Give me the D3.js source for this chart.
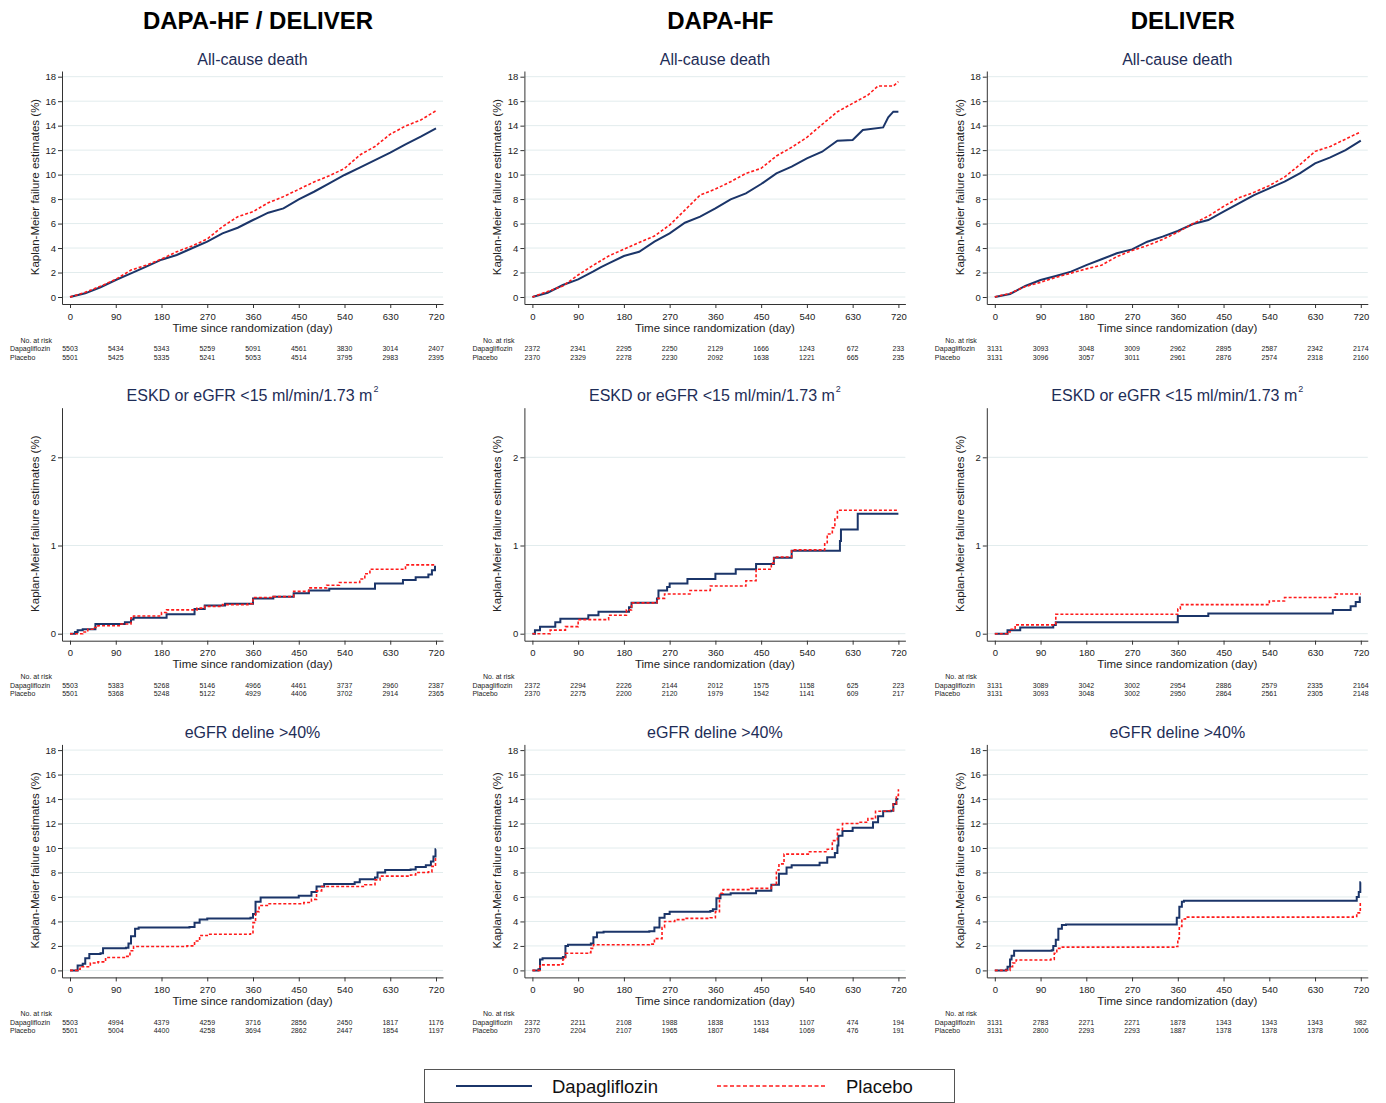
<!DOCTYPE html>
<html>
<head>
<meta charset="utf-8">
<script src="https://cdn.jsdelivr.net/npm/d3@7"></script>
<style>
	body { margin: 0; background: #fff; }
	svg { display: block; font-family: Arial, "Liberation Sans", sans-serif; }
</style>
</head>
<body>
<div id="chart"></div>
<script>
const width = 1386, height = 1103;

// ---------------- data ----------------
const studies = ["DAPA-HF / DELIVER", "DAPA-HF", "DELIVER"];
const outcomes = ["All-cause death", "ESKD or eGFR <15 ml/min/1.73 m", "eGFR deline >40%"];
const outcomeSup = ["", "2", ""];
const groups = ["Dapagliflozin", "Placebo"];
const dayTicks = [0, 90, 180, 270, 360, 450, 540, 630, 720];
const pctTicks = [0, 2, 4, 6, 8, 10, 12, 14, 16, 18];
const pctTicksEskd = [0, 1, 2];

// Kaplan-Meier curves, [day, failure %]
const pooledDeathDapa = [[0,0],[30,0.3],[60,0.8],[90,1.39],[120,1.93],[150,2.48],[180,3.05],[210,3.43],[240,3.98],[270,4.52],[300,5.2],[330,5.66],[360,6.29],[390,6.89],[420,7.24],[450,7.98],[480,8.6],[510,9.29],[540,9.97],[570,10.57],[600,11.19],[630,11.79],[660,12.47],[690,13.1],[720,13.78]];
const pooledDeathPbo = [[0,0],[30,0.38],[60,0.88],[90,1.44],[120,2.2],[150,2.6],[180,3.1],[210,3.7],[240,4.17],[270,4.74],[300,5.75],[330,6.56],[360,6.97],[390,7.7],[420,8.2],[450,8.8],[480,9.4],[510,9.9],[540,10.5],[570,11.6],[600,12.3],[630,13.3],[660,13.97],[690,14.46],[720,15.22]];

const dapaDeathDapa = [[0,0],[30,0.35],[60,0.98],[90,1.44],[120,2.1],[135,2.45],[150,2.75],[180,3.35],[210,3.7],[240,4.52],[270,5.2],[300,6.07],[330,6.56],[360,7.24],[390,7.98],[420,8.47],[450,9.23],[480,10.1],[510,10.65],[540,11.33],[570,11.87],[600,12.77],[630,12.83],[650,13.64],[690,13.86],[700,14.68],[710,15.14],[720,15.14]];
const dapaDeathPbo = [[0,0],[30,0.45],[60,0.9],[90,1.8],[120,2.6],[150,3.35],[180,3.9],[210,4.45],[240,4.98],[270,5.88],[300,7.1],[330,8.33],[360,8.82],[390,9.42],[420,10.1],[450,10.51],[480,11.52],[510,12.23],[540,13.04],[570,14.1],[600,15.14],[630,15.82],[660,16.5],[680,17.24],[710,17.24],[720,17.6]];

const deliverDeathDapa = [[0,0],[30,0.25],[60,0.9],[90,1.39],[120,1.72],[150,2.07],[180,2.6],[210,3.08],[240,3.57],[270,3.89],[300,4.52],[330,4.93],[360,5.39],[390,5.96],[420,6.29],[450,6.97],[480,7.65],[510,8.33],[540,8.88],[570,9.42],[600,10.1],[630,10.92],[660,11.41],[690,12.0],[720,12.77]];
const deliverDeathPbo = [[0,0],[30,0.3],[60,0.85],[90,1.2],[120,1.6],[150,1.95],[180,2.3],[210,2.6],[240,3.3],[270,3.8],[300,4.2],[330,4.7],[360,5.3],[390,6.0],[420,6.6],[450,7.4],[480,8.1],[510,8.55],[540,9.1],[570,9.8],[600,10.8],[630,11.9],[660,12.3],[690,12.9],[720,13.5]];

const pooledEskdDapa = [[0,0],[10,0.02],[15,0.04],[25,0.05],[50,0.11],[108,0.13],[120,0.16],[125,0.18],[190,0.22],[245,0.28],[265,0.32],[305,0.34],[360,0.4],[400,0.42],[440,0.46],[470,0.49],[510,0.51],[600,0.57],[655,0.61],[680,0.64],[705,0.67],[712,0.72],[718,0.76],[720,0.76]];
const pooledEskdPbo = [[0,0],[25,0.02],[35,0.05],[45,0.07],[55,0.09],[100,0.11],[120,0.18],[125,0.2],[180,0.24],[190,0.27],[250,0.29],[265,0.31],[300,0.33],[350,0.34],[360,0.41],[400,0.42],[440,0.48],[470,0.52],[505,0.55],[530,0.58],[570,0.62],[580,0.68],[590,0.73],[660,0.78],[720,0.78]];

const dapaEskdDapa = [[0,0],[5,0.04],[15,0.08],[45,0.13],[55,0.17],[110,0.21],[130,0.25],[190,0.3],[195,0.35],[245,0.4],[248,0.49],[265,0.53],[270,0.57],[305,0.62],[360,0.68],[400,0.73],[440,0.79],[475,0.86],[510,0.94],[605,1.05],[607,1.18],[640,1.36],[720,1.36]];
const dapaEskdPbo = [[0,0],[35,0.04],[65,0.08],[90,0.16],[150,0.21],[185,0.27],[195,0.35],[245,0.4],[260,0.45],[310,0.49],[350,0.54],[420,0.6],[440,0.73],[470,0.8],[475,0.87],[510,0.95],[575,1.02],[580,1.13],[590,1.2],[595,1.3],[600,1.4],[720,1.4]];

const deliverEskdDapa = [[0,0],[25,0.04],[50,0.07],[115,0.1],[120,0.13],[360,0.2],[420,0.23],[665,0.27],[700,0.31],[710,0.36],[718,0.41],[720,0.41]];
const deliverEskdPbo = [[0,0],[25,0.02],[30,0.05],[40,0.1],[120,0.22],[360,0.28],[365,0.33],[540,0.37],[570,0.41],[670,0.45],[720,0.45]];

const pooledEgfrDapa = [[0,0],[12,0],[15,0.4],[25,0.55],[30,1.0],[38,1.35],[60,1.4],[65,1.8],[110,1.85],[115,2.2],[120,2.8],[128,3.4],[135,3.5],[235,3.55],[245,3.9],[255,4.15],[270,4.25],[355,4.3],[360,4.6],[365,5.6],[375,5.95],[450,6.1],[475,6.4],[485,6.85],[500,7.05],[560,7.2],[570,7.45],[600,7.6],[605,8.0],[620,8.2],[670,8.25],[680,8.45],[700,8.6],[710,8.9],[715,9.3],[719,9.9],[720,9.9]];
const pooledEgfrPbo = [[0,0],[15,0.1],[20,0.3],[40,0.6],[55,0.7],[70,1.05],[110,1.15],[118,1.6],[125,1.95],[230,2.0],[245,2.4],[255,2.85],[270,2.95],[355,3.0],[360,3.9],[365,4.8],[372,5.3],[390,5.45],[460,5.55],[475,5.8],[485,6.5],[495,6.85],[580,7.0],[600,7.4],[610,7.7],[670,7.8],[680,8.0],[705,8.05],[712,8.5],[719,9.3],[720,9.3]];

const dapaEgfrDapa = [[0,0],[12,0.1],[15,0.9],[20,1.0],[60,1.1],[65,2.0],[70,2.1],[115,2.2],[120,2.7],[127,3.1],[140,3.15],[230,3.2],[240,3.5],[250,4.3],[260,4.6],[270,4.8],[350,4.85],[355,5.0],[362,5.9],[370,6.2],[390,6.3],[440,6.5],[470,7.0],[485,7.9],[500,8.4],[510,8.6],[545,8.6],[565,8.8],[580,9.25],[595,9.6],[600,10.2],[602,11.0],[610,11.4],[630,11.65],[665,11.65],[670,12.1],[680,12.6],[690,13.0],[705,13.05],[710,13.6],[716,14.0],[720,14.0]];
const dapaEgfrPbo = [[0,0],[15,0.45],[55,0.5],[60,0.9],[65,1.4],[110,1.45],[115,1.8],[120,2.1],[230,2.15],[240,2.6],[255,3.5],[260,4.0],[280,4.15],[300,4.25],[350,4.3],[360,4.8],[368,6.3],[375,6.6],[430,6.7],[470,7.0],[480,8.2],[485,8.7],[495,9.5],[545,9.7],[580,9.9],[590,10.6],[600,11.5],[610,12.0],[640,12.1],[660,12.4],[675,13.0],[700,13.05],[710,13.6],[716,14.3],[720,14.8]];

const deliverEgfrDapa = [[0,0],[22,0.05],[25,0.3],[30,0.9],[33,1.2],[38,1.6],[112,1.65],[115,2.0],[120,2.5],[125,3.4],[132,3.7],[140,3.75],[355,3.75],[358,4.3],[363,5.2],[368,5.6],[372,5.7],[705,5.7],[712,6.0],[716,6.4],[719,7.2],[720,7.2]];
const deliverEgfrPbo = [[0,0],[25,0],[30,0.3],[35,0.6],[42,0.85],[110,0.9],[117,1.4],[122,1.8],[128,1.9],[355,1.95],[360,2.6],[363,3.6],[368,4.2],[375,4.35],[705,4.4],[712,4.7],[719,5.6],[720,5.6]];

// numbers at risk at each day tick
const pooledDeathRiskDapa = [5503, 5434, 5343, 5259, 5091, 4561, 3830, 3014, 2407];
const pooledDeathRiskPbo = [5501, 5425, 5335, 5241, 5053, 4514, 3795, 2983, 2395];
const dapaDeathRiskDapa = [2372, 2341, 2295, 2250, 2129, 1666, 1243, 672, 233];
const dapaDeathRiskPbo = [2370, 2329, 2278, 2230, 2092, 1638, 1221, 665, 235];
const deliverDeathRiskDapa = [3131, 3093, 3048, 3009, 2962, 2895, 2587, 2342, 2174];
const deliverDeathRiskPbo = [3131, 3096, 3057, 3011, 2961, 2876, 2574, 2318, 2160];
const pooledEskdRiskDapa = [5503, 5383, 5268, 5146, 4966, 4461, 3737, 2960, 2387];
const pooledEskdRiskPbo = [5501, 5368, 5248, 5122, 4929, 4406, 3702, 2914, 2365];
const dapaEskdRiskDapa = [2372, 2294, 2226, 2144, 2012, 1575, 1158, 625, 223];
const dapaEskdRiskPbo = [2370, 2275, 2200, 2120, 1979, 1542, 1141, 609, 217];
const deliverEskdRiskDapa = [3131, 3089, 3042, 3002, 2954, 2886, 2579, 2335, 2164];
const deliverEskdRiskPbo = [3131, 3093, 3048, 3002, 2950, 2864, 2561, 2305, 2148];
const pooledEgfrRiskDapa = [5503, 4994, 4379, 4259, 3716, 2856, 2450, 1817, 1176];
const pooledEgfrRiskPbo = [5501, 5004, 4400, 4258, 3694, 2862, 2447, 1854, 1197];
const dapaEgfrRiskDapa = [2372, 2211, 2108, 1988, 1838, 1513, 1107, 474, 194];
const dapaEgfrRiskPbo = [2370, 2204, 2107, 1965, 1807, 1484, 1069, 476, 191];
const deliverEgfrRiskDapa = [3131, 2783, 2271, 2271, 1878, 1343, 1343, 1343, 982];
const deliverEgfrRiskPbo = [3131, 2800, 2293, 2293, 1887, 1378, 1378, 1378, 1006];

// panel table built from the arrays above
const panels = [
	{row: 0, col: 0, dapa: pooledDeathDapa, pbo: pooledDeathPbo, riskDapa: pooledDeathRiskDapa, riskPbo: pooledDeathRiskPbo},
	{row: 0, col: 1, dapa: dapaDeathDapa, pbo: dapaDeathPbo, riskDapa: dapaDeathRiskDapa, riskPbo: dapaDeathRiskPbo},
	{row: 0, col: 2, dapa: deliverDeathDapa, pbo: deliverDeathPbo, riskDapa: deliverDeathRiskDapa, riskPbo: deliverDeathRiskPbo},
	{row: 1, col: 0, dapa: pooledEskdDapa, pbo: pooledEskdPbo, riskDapa: pooledEskdRiskDapa, riskPbo: pooledEskdRiskPbo},
	{row: 1, col: 1, dapa: dapaEskdDapa, pbo: dapaEskdPbo, riskDapa: dapaEskdRiskDapa, riskPbo: dapaEskdRiskPbo},
	{row: 1, col: 2, dapa: deliverEskdDapa, pbo: deliverEskdPbo, riskDapa: deliverEskdRiskDapa, riskPbo: deliverEskdRiskPbo},
	{row: 2, col: 0, dapa: pooledEgfrDapa, pbo: pooledEgfrPbo, riskDapa: pooledEgfrRiskDapa, riskPbo: pooledEgfrRiskPbo},
	{row: 2, col: 1, dapa: dapaEgfrDapa, pbo: dapaEgfrPbo, riskDapa: dapaEgfrRiskDapa, riskPbo: dapaEgfrRiskPbo},
	{row: 2, col: 2, dapa: deliverEgfrDapa, pbo: deliverEgfrPbo, riskDapa: deliverEgfrRiskDapa, riskPbo: deliverEgfrRiskPbo}
];

// ---------------- drawing ----------------
const navy = "#1b3569", red = "#ff1a1a", textCol = "#222";
const colStep = 462.4, rowStep = 336.7;

const svg = d3.select("#chart")
	.append("svg")
	.attr("width", width)
	.attr("height", height);

// column headers
svg.selectAll(".study")
	.data(studies)
	.enter()
	.append("text")
	.attr("x", (d, i) => 258 + i * colStep)
	.attr("y", 29)
	.attr("text-anchor", "middle")
	.attr("font-size", 24)
	.attr("font-weight", "bold")
	.attr("fill", "#000")
	.text(d => d);

// x scale: day 0 at 70, day 720 at 436, axis runs 62..443
const x = d3.scaleLinear().domain([0, 720]).range([70, 436]);
x.domain([x.invert(62), x.invert(443)]).range([62, 443]);

panels.forEach(p => {
	const g = svg.append("g")
		.attr("transform", `translate(${p.col * colStep}, ${p.row * rowStep})`);

	const ticks = p.row === 1 ? pctTicksEskd : pctTicks;
	const y = p.row === 1
		? d3.scaleLinear().domain([0, 2]).range([297, 120.6])
		: d3.scaleLinear().domain([0, 18]).range([297, 76.7]);
	y.domain([y.invert(304), y.invert(71)]).range([304, 71]);

	// panel title
	const title = g.append("text")
		.attr("x", 252.5)
		.attr("y", 64.5)
		.attr("text-anchor", "middle")
		.attr("font-size", 16)
		.attr("fill", "#1e2d57")
		.text(outcomes[p.row]);
	if (outcomeSup[p.row]) {
		title.append("tspan")
			.attr("dy", -9)
			.attr("dx", 1)
			.attr("font-size", 9)
			.text(outcomeSup[p.row]);
	}

	// gridlines
	g.selectAll(".grid")
		.data(ticks)
		.enter()
		.append("line")
		.attr("x1", 62)
		.attr("x2", 443)
		.attr("y1", d => y(d))
		.attr("y2", d => y(d))
		.attr("stroke", "#e2eced")
		.attr("stroke-width", 1);

	// axes
	const yAxis = g.append("g")
		.attr("transform", "translate(62,0)")
		.call(d3.axisLeft(y).tickValues(ticks).tickFormat(d3.format("d"))
			.tickSize(4).tickSizeOuter(0).tickPadding(2));
	const xAxis = g.append("g")
		.attr("transform", "translate(0,304)")
		.call(d3.axisBottom(x).tickValues(dayTicks).tickFormat(d3.format("d"))
			.tickSize(4).tickSizeOuter(0).tickPadding(5));
	[yAxis, xAxis].forEach(a => {
		a.attr("font-family", null);
		a.selectAll("text").attr("font-size", 9.5).attr("fill", textCol);
		a.selectAll("path, line").attr("stroke", "#333");
	});

	// axis titles
	g.append("text")
		.attr("x", 252.5)
		.attr("y", 331.5)
		.attr("text-anchor", "middle")
		.attr("font-size", 11.5)
		.attr("fill", textCol)
		.text("Time since randomization (day)");
	g.append("text")
		.attr("transform", "translate(39, 187) rotate(-90)")
		.attr("text-anchor", "middle")
		.attr("font-size", 11.5)
		.attr("fill", textCol)
		.text("Kaplan-Meier failure estimates (%)");

	// curves
	const line = d3.line()
		.x(d => x(d[0]))
		.y(d => y(d[1]))
		.curve(p.row === 0 ? d3.curveLinear : d3.curveStepAfter);

	g.append("path")
		.datum(p.dapa)
		.attr("d", line)
		.attr("fill", "none")
		.attr("stroke", navy)
		.attr("stroke-width", 2);
	g.append("path")
		.datum(p.pbo)
		.attr("d", line)
		.attr("fill", "none")
		.attr("stroke", red)
		.attr("stroke-width", 1.6)
		.attr("stroke-dasharray", "3,2");

	// numbers at risk
	const risk = g.append("g").attr("font-size", 7).attr("fill", textCol);
	risk.append("text")
		.attr("x", 52)
		.attr("y", 342.5)
		.attr("text-anchor", "end")
		.text("No. at risk");
	[p.riskDapa, p.riskPbo].forEach((vals, k) => {
		const yy = 351.2 + k * 8.4;
		risk.append("text")
			.attr("x", 10)
			.attr("y", yy)
			.text(groups[k]);
		risk.selectAll(".n" + k)
			.data(vals)
			.enter()
			.append("text")
			.attr("x", (d, i) => x(dayTicks[i]))
			.attr("y", yy)
			.attr("text-anchor", "middle")
			.text(d => d);
	});
});

// legend
const legend = svg.append("g");
legend.append("rect")
	.attr("x", 424.5)
	.attr("y", 1069.5)
	.attr("width", 530)
	.attr("height", 33)
	.attr("fill", "#fff")
	.attr("stroke", "#555");
legend.append("line")
	.attr("x1", 456).attr("x2", 532)
	.attr("y1", 1086).attr("y2", 1086)
	.attr("stroke", navy).attr("stroke-width", 2);
legend.append("line")
	.attr("x1", 717).attr("x2", 826)
	.attr("y1", 1086).attr("y2", 1086)
	.attr("stroke", red).attr("stroke-width", 1.6)
	.attr("stroke-dasharray", "4,2.5");
legend.selectAll(".lab")
	.data(groups)
	.enter()
	.append("text")
	.attr("x", (d, i) => i === 0 ? 552 : 846)
	.attr("y", 1093)
	.attr("font-size", 18.5)
	.attr("fill", "#111")
	.text(d => d);
</script>
</body>
</html>
